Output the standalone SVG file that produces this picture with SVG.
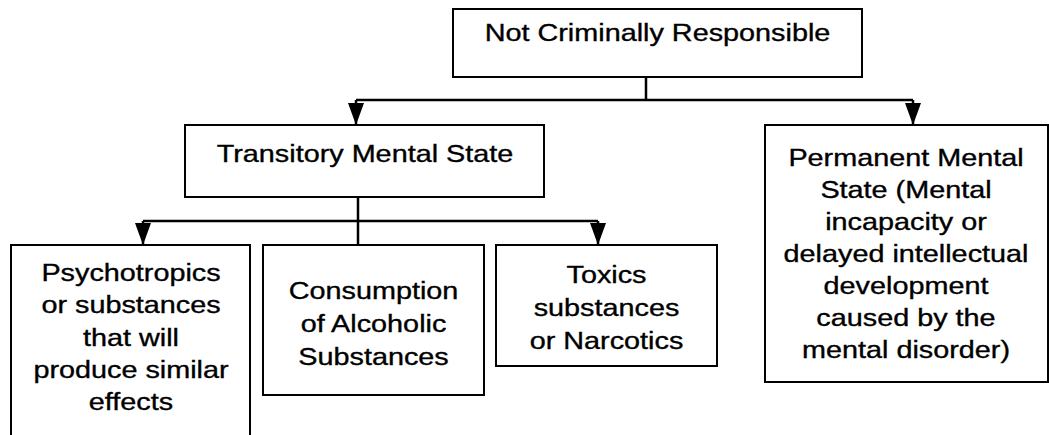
<svg xmlns="http://www.w3.org/2000/svg" width="1049" height="435" viewBox="0 0 1049 435">
  <style>
    .box { fill: #ffffff; stroke: #000000; stroke-width: 2; }
    .t { font-family: "Liberation Sans", Arial, Helvetica, sans-serif; font-size: 24px; fill: #000000; stroke: #000000; stroke-width: 0.35; text-anchor: middle; }
    .conn { fill: none; stroke: #000000; stroke-width: 2.5; }
  </style>
  <defs>
    <marker id="arrow" viewBox="0 0 22 16" refX="22" refY="8" markerWidth="22" markerHeight="16" markerUnits="userSpaceOnUse" orient="auto">
      <path d="M0,0 L22,8 L0,16 Z" fill="#000000"/>
    </marker>
  </defs>
  <rect width="1049" height="435" fill="#ffffff"/>

  <g id="connectors">
    <path class="conn" d="M646,77 V100"/>
    <path class="conn" d="M356,100 H913"/>
    <path class="conn" d="M356,100 V125" marker-end="url(#arrow)"/>
    <path class="conn" d="M913,100 V125" marker-end="url(#arrow)"/>
    <path class="conn" d="M358,197 V245"/>
    <path class="conn" d="M143,221 H598"/>
    <path class="conn" d="M143,221 V245" marker-end="url(#arrow)"/>
    <path class="conn" d="M598,221 V245" marker-end="url(#arrow)"/>
  </g>

  <g id="not-criminally-responsible">
    <rect class="box" x="453" y="9" width="409" height="68"/>
    <text class="t" transform="translate(657.5,0) scale(1.2,1)" x="0" y="41">Not Criminally Responsible</text>
  </g>

  <g id="transitory-mental-state">
    <rect class="box" x="185" y="125" width="359" height="72"/>
    <text class="t" transform="translate(365,0) scale(1.2,1)" x="0" y="162">Transitory Mental State</text>
  </g>

  <g id="permanent-mental-state">
    <rect class="box" x="765" y="125" width="283" height="257"/>
    <g transform="translate(906,0) scale(1.2,1)">
      <text class="t" x="0" y="166">Permanent Mental</text>
      <text class="t" x="0" y="198">State (Mental</text>
      <text class="t" x="0" y="230">incapacity or</text>
      <text class="t" x="0" y="262">delayed intellectual</text>
      <text class="t" x="0" y="294">development</text>
      <text class="t" x="0" y="326">caused by the</text>
      <text class="t" x="0" y="358">mental disorder)</text>
    </g>
  </g>

  <g id="psychotropics">
    <rect class="box" x="11" y="245" width="239" height="220"/>
    <g transform="translate(131,0) scale(1.2,1)">
      <text class="t" x="0" y="281">Psychotropics</text>
      <text class="t" x="0" y="313">or substances</text>
      <text class="t" x="0" y="346">that will</text>
      <text class="t" x="0" y="378">produce similar</text>
      <text class="t" x="0" y="410">effects</text>
    </g>
  </g>

  <g id="consumption-of-alcoholic-substances">
    <rect class="box" x="263" y="245" width="221" height="150"/>
    <g transform="translate(373.5,0) scale(1.2,1)">
      <text class="t" x="0" y="299">Consumption</text>
      <text class="t" x="0" y="332">of Alcoholic</text>
      <text class="t" x="0" y="365">Substances</text>
    </g>
  </g>

  <g id="toxics-substances-or-narcotics">
    <rect class="box" x="496" y="245" width="221" height="121"/>
    <g transform="translate(606.5,0) scale(1.2,1)">
      <text class="t" x="0" y="283">Toxics</text>
      <text class="t" x="0" y="316">substances</text>
      <text class="t" x="0" y="349">or Narcotics</text>
    </g>
  </g>
</svg>
